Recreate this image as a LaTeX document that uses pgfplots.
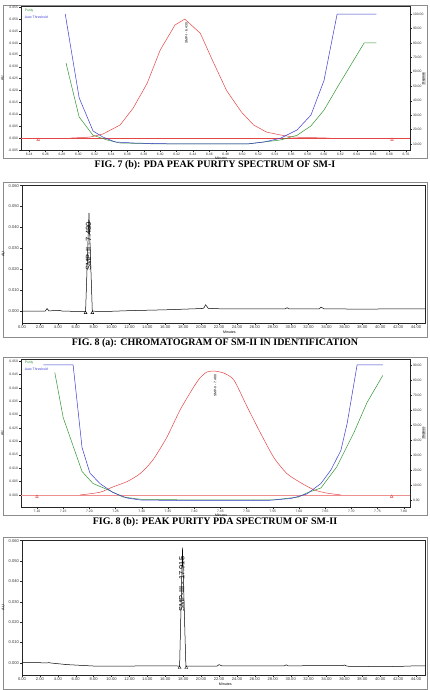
\documentclass[border=0pt]{standalone}
\usepackage{fontspec}
\setmainfont{Liberation Sans}
\newfontfamily\capfont{Liberation Serif}
\usepackage{pgfplots}
\pgfplotsset{compat=1.18}
\definecolor{pred}{RGB}{228,70,70}
\definecolor{pblue}{RGB}{60,60,210}
\definecolor{pgreen}{RGB}{50,150,50}
\pgfplotsset{
  base/.style={scale only axis, axis line style={black!85, line width=0.5pt},
    tick style={black!85, line width=0.3pt}, tick align=outside,
    major tick length=1.8pt, minor tick length=1.0pt,
    scaled x ticks=false, scaled y ticks=false,
    /pgf/number format/assume math mode=true,
    tick label style={text=black!80}, every tick label/.append style={inner sep=1pt}},
  tinyf/.style={tick label style={font=\fontsize{3.4}{3.8}\selectfont}},
  smallf/.style={tick label style={font=\fontsize{4.1}{4.5}\selectfont}},
  xfmt2/.style={xticklabel style={/pgf/number format/fixed, /pgf/number format/fixed zerofill, /pgf/number format/precision=2}},
  yfmt3/.style={yticklabel style={/pgf/number format/fixed, /pgf/number format/fixed zerofill, /pgf/number format/precision=3}},
  yfmt2/.style={yticklabel style={/pgf/number format/fixed, /pgf/number format/fixed zerofill, /pgf/number format/precision=2}},
}
\begin{document}
\begin{tikzpicture}[x=1pt,y=1pt]
\path[use as bounding box, fill=white] (0,0) rectangle (429,690);
% frames
\draw[black!45, line width=0.9pt] (3,532) rectangle (427,685);
\draw[black!45, line width=0.9pt] (3,353) rectangle (427,508);
\draw[black!45, line width=0.9pt] (3,175) rectangle (427,333);
\draw[black!45, line width=0.9pt] (3,1) rectangle (427,153);
% captions
\node[font=\capfont\bfseries\fontsize{10}{12}\selectfont] at (215,525) {FIG. 7 (b): PDA PEAK PURITY SPECTRUM OF SM-I};
\node[font=\capfont\bfseries\fontsize{10}{12}\selectfont] at (215,347) {FIG. 8 (a): CHROMATOGRAM OF SM-II IN IDENTIFICATION};
\node[font=\capfont\bfseries\fontsize{10}{12}\selectfont] at (215,168) {FIG. 8 (b): PEAK PURITY PDA SPECTRUM OF SM-II};

% ================= Panel 1 =================
\begin{axis}[base, tinyf, xfmt2, yfmt3, at={(21pt,683.3pt)}, anchor=north west,
  width=389pt, height=143.3pt, xmin=6.230, xmax=6.705, ymin=-0.005, ymax=0.0552,
  xtick={6.24,6.26,6.28,6.30,6.32,6.34,6.36,6.38,6.40,6.42,6.44,6.46,6.48,6.50,6.52,6.54,6.56,6.58,6.60,6.62,6.64,6.66,6.68,6.70}, minor x tick num=3,
  ytick={-0.005,0,0.005,0.010,0.015,0.020,0.025,0.030,0.035,0.040,0.045,0.050,0.055},
  xtick pos=bottom, ytick pos=left,
  xlabel={Minutes}, xlabel style={font=\fontsize{3.4}{3.8}\selectfont, at={(axis description cs:0.49,0)}, anchor=north west, yshift=-3.5pt},
  ylabel={AU}, ylabel style={font=\fontsize{3.4}{3.8}\selectfont, at={(axis description cs:-0.036,0.5)}}]
\addplot[pred, line width=0.5pt] coordinates {(6.230,0)(6.705,0)};
\addplot[pred, line width=0.5pt] coordinates {(6.290,0.0000)(6.314,0.0004)(6.330,0.0017)(6.351,0.0055)(6.367,0.0126)(6.384,0.0230)(6.400,0.0370)(6.418,0.0475)(6.430,0.0500)(6.449,0.0440)(6.464,0.0325)(6.481,0.0200)(6.499,0.0110)(6.514,0.0055)(6.530,0.0025)(6.547,0.0013)(6.563,0.0004)(6.607,0.0000)};
\addplot[pred, only marks, mark=triangle, mark size=1.6pt, mark options={line width=0.4pt}] coordinates {(6.251,-0.0006)(6.683,-0.0006)};
\node[rotate=90, font=\fontsize{3.4}{3.8}\selectfont, anchor=east] at (axis cs:6.432,0.0500) {SMP-I - 6.430};
\end{axis}
\begin{axis}[base, tinyf, yfmt2, at={(21pt,683.3pt)}, anchor=north west,
  width=389pt, height=143.3pt, xmin=6.230, xmax=6.705, ymin=5.85, ymax=105.1,
  axis x line=none, axis y line*=right, ytick={10,20,30,40,50,60,70,80,90,100},
  ylabel={Degrees}, ylabel style={font=\fontsize{3}{3.4}\selectfont, fill=black!15, inner sep=0.5pt, at={(axis description cs:1.03,0.5)}},
  legend style={at={(axis description cs:0.004,1)}, anchor=north west, draw=none, fill=none, font=\fontsize{3.4}{3.8}\selectfont, inner sep=0pt, row sep=-1.2pt, cells={anchor=west}},
  legend image code/.code={}]
\addplot[pgreen, line width=0.5pt] coordinates {(6.285,66)(6.301,28.7)(6.318,16)(6.335,12.8)(6.351,10.7)(6.400,10.0)(6.506,10.0)(6.547,12.8)(6.567,16)(6.584,22.5)(6.600,33.5)(6.616,49)(6.633,65)(6.649,80)(6.664,80)};
\addlegendentry{\textcolor{pgreen}{Purity}}
\addplot[pblue, line width=0.5pt] coordinates {(6.284,100)(6.301,42)(6.318,19)(6.330,14.8)(6.345,11.4)(6.367,10.7)(6.400,10.2)(6.450,10.0)(6.506,10.0)(6.527,11.4)(6.547,14)(6.567,19.7)(6.584,30)(6.600,54)(6.616,100)(6.664,100)};
\addlegendentry{\textcolor{pblue}{Auto Threshold}}
\end{axis}

% ================= Panel 2 =================
\begin{axis}[base, smallf, xfmt2, yfmt3, at={(22pt,505pt)}, anchor=north west,
  width=403pt, height=138pt, xmin=0, xmax=45, ymin=-0.0057, ymax=0.0603,
  xtick={0,2,...,44}, minor x tick num=3, ytick={0,0.01,0.02,0.03,0.04,0.05,0.06},
  xtick pos=bottom, ytick pos=left,
  xlabel={Minutes}, xlabel style={font=\fontsize{3.6}{4}\selectfont, at={(axis description cs:0.49,0)}, anchor=north west, yshift=-4.5pt},
  ylabel={AU}, ylabel style={font=\fontsize{3.8}{4}\selectfont, at={(axis description cs:-0.035,0.5)}}]
\addplot[black, line width=0.5pt] coordinates {(0,0.0000)(2.6,0.0000)(2.8,0.0012)(3.0,0.0001)(4.2,0.0003)(4.5,0.0000)(6.5,-0.0002)(7.1,-0.0001)(7.48,0.0470)(7.85,0.0000)(8.5,-0.0002)(10,-0.0001)(12,0.0002)(14,0.0004)(16,0.0006)(18,0.0009)(20,0.0012)(20.3,0.0014)(20.5,0.0030)(20.8,0.0013)(22,0.0011)(24,0.0011)(26,0.0011)(29.4,0.0011)(29.6,0.0016)(29.8,0.0011)(33.2,0.0011)(33.4,0.0019)(33.7,0.0011)(36,0.0010)(38,0.0009)(40,0.0010)(42,0.0010)(44,0.0011)(45,0.0011)};
\addplot[black, only marks, mark=triangle, mark size=1.7pt, mark options={line width=0.4pt}] coordinates {(7.1,-0.0008)(7.85,-0.0008)};
\node[rotate=90, font=\fontsize{7.5}{8}\selectfont] at (axis cs:7.42,0.0309) {SMP-II - 7.480};
\end{axis}

% ================= Panel 3 =================
\begin{axis}[base, tinyf, xfmt2, yfmt3, at={(21pt,331pt)}, anchor=north west,
  width=389pt, height=148pt, xmin=7.0695, xmax=7.812, ymin=-0.0045, ymax=0.0508,
  xtick={7.10,7.15,7.20,7.25,7.30,7.35,7.40,7.45,7.50,7.55,7.60,7.65,7.70,7.75,7.80}, minor x tick num=4,
  ytick={0,0.005,0.010,0.015,0.020,0.025,0.030,0.035,0.040,0.045,0.050},
  xtick pos=bottom, ytick pos=left,
  xlabel={Minutes}, xlabel style={font=\fontsize{3.4}{3.8}\selectfont, at={(axis description cs:0.49,0)}, anchor=north west, yshift=-3.5pt},
  ylabel={AU}, ylabel style={font=\fontsize{3.4}{3.8}\selectfont, at={(axis description cs:-0.036,0.5)}}]
\addplot[pred!60, line width=0.8pt] coordinates {(7.0695,0)(7.812,0)};
\addplot[pred, line width=0.5pt, smooth, tension=0.4] coordinates {(7.182,0)(7.220,0.0010)(7.245,0.0030)(7.272,0.0050)(7.297,0.0080)(7.321,0.0130)(7.348,0.0216)(7.373,0.0317)(7.398,0.0400)(7.411,0.0437)(7.424,0.0459)(7.438,0.0463)(7.457,0.0455)(7.476,0.0429)(7.501,0.0330)(7.527,0.0230)(7.552,0.0140)(7.577,0.0080)(7.604,0.0045)(7.629,0.0019)(7.653,0.0007)(7.680,0.0000)};
\addplot[pred, only marks, mark=triangle, mark size=1.6pt, mark options={line width=0.4pt}] coordinates {(7.100,-0.0006)(7.777,-0.0006)};
\node[rotate=90, font=\fontsize{3.4}{3.8}\selectfont, anchor=east] at (axis cs:7.440,0.0462) {SMP-II - 7.480};
\end{axis}
\begin{axis}[base, tinyf, yfmt2, at={(21pt,331pt)}, anchor=north west,
  width=389pt, height=148pt, xmin=7.0695, xmax=7.812, ymin=-4.67, ymax=94,
  axis x line=none, axis y line*=right, ytick={0,10,20,30,40,50,60,70,80,90},
  ylabel={Degrees}, ylabel style={font=\fontsize{3}{3.4}\selectfont, fill=black!15, inner sep=0.5pt, at={(axis description cs:1.03,0.5)}},
  legend style={at={(axis description cs:0.004,1)}, anchor=north west, draw=none, fill=none, font=\fontsize{3.4}{3.8}\selectfont, inner sep=0pt, row sep=-1.2pt, cells={anchor=west}},
  legend image code/.code={}]
\addplot[pgreen, line width=0.5pt] coordinates {(7.134,85)(7.150,55)(7.167,38)(7.186,19)(7.207,11)(7.234,7)(7.264,2)(7.297,0.5)(7.400,0)(7.550,0)(7.600,2)(7.615,4.7)(7.642,8)(7.672,22)(7.705,45)(7.730,65)(7.760,83)};
\addlegendentry{\textcolor{pgreen}{Purity}}
\addplot[pblue, line width=0.5pt] coordinates {(7.112,90)(7.169,90)(7.186,35)(7.201,18)(7.220,11)(7.245,5)(7.272,1.3)(7.297,0)(7.400,-0.5)(7.540,-0.3)(7.585,1)(7.615,4)(7.642,11)(7.661,20)(7.680,33)(7.692,51)(7.711,90)(7.760,90)};
\addlegendentry{\textcolor{pblue}{Auto Threshold}}
\end{axis}

% ================= Panel 4 =================
\begin{axis}[base, smallf, xfmt2, yfmt3, at={(22pt,150pt)}, anchor=north west,
  width=403pt, height=135pt, xmin=0, xmax=45, ymin=-0.0059, ymax=0.0603,
  xtick={0,2,...,44}, minor x tick num=3, ytick={0,0.01,0.02,0.03,0.04,0.05,0.06},
  xtick pos=bottom, ytick pos=left,
  xlabel={Minutes}, xlabel style={font=\fontsize{3.6}{4}\selectfont, at={(axis description cs:0.48,0)}, anchor=north west, yshift=-4.5pt},
  ylabel={AU}, ylabel style={font=\fontsize{3.8}{4}\selectfont, at={(axis description cs:-0.035,0.5)}}]
\addplot[black, line width=0.5pt] coordinates {(0,0.0002)(1.5,0.0002)(2.8,0.0000)(3,0.0002)(3.2,0.0000)(5,-0.0008)(8,-0.0015)(12,-0.0015)(16,-0.0014)(17.6,-0.0015)(17.915,0.0565)(18.3,-0.0015)(20,-0.0015)(21.8,-0.0015)(22.0,-0.0008)(22.3,-0.0014)(26,-0.0014)(29.3,-0.0014)(29.5,-0.0009)(29.7,-0.0014)(34,-0.0013)(35.8,-0.0013)(36,-0.0010)(36.3,-0.0016)(40,-0.0018)(42,-0.0017)(44,-0.0014)(45,-0.0014)};
\addplot[black, only marks, mark=triangle, mark size=1.7pt, mark options={line width=0.4pt}] coordinates {(17.6,-0.0023)(18.34,-0.0023)};
\node[rotate=90, font=\fontsize{7.5}{8}\selectfont] at (axis cs:17.85,0.0387) {SMP-III - 17.915};
\end{axis}
\end{tikzpicture}
\end{document}
